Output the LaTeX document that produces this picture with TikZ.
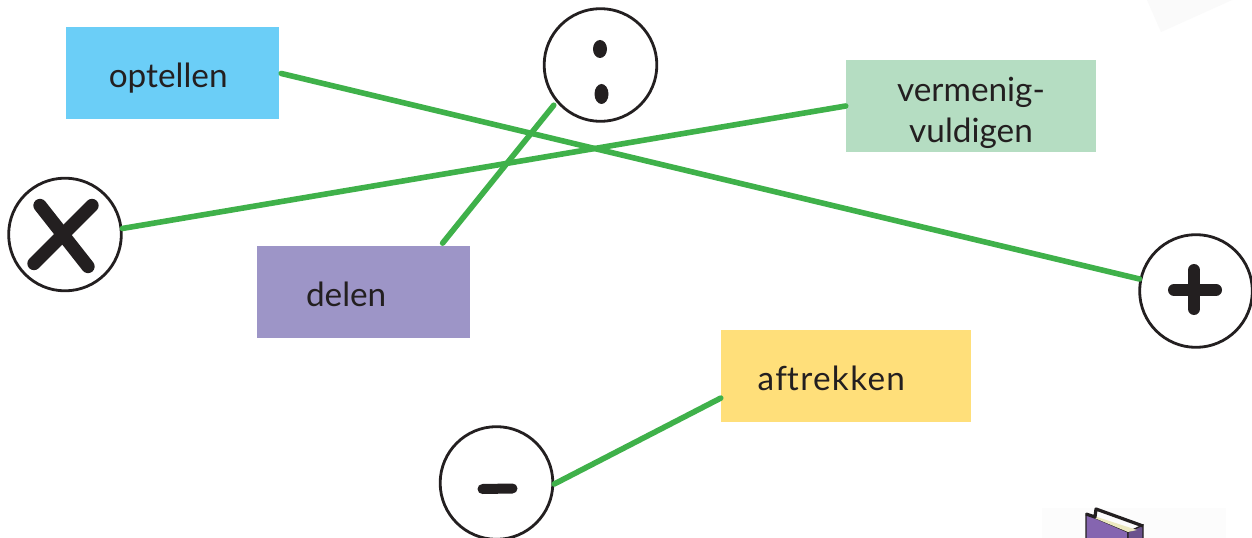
\documentclass[tikz,border=0pt]{standalone}
\usepackage{fontspec}
\setmainfont{Lato}
\usetikzlibrary{calc}
\definecolor{linkgreen}{HTML}{3FB14A}
\definecolor{inkblack}{HTML}{231F20}
\definecolor{boxblue}{HTML}{6BCEF7}
\definecolor{boxpurple}{HTML}{9D95C7}
\definecolor{boxgreen}{HTML}{B5DDC2}
\definecolor{boxyellow}{HTML}{FFDF7A}
\definecolor{bookpurple}{HTML}{8565B0}
\definecolor{bookpage}{HTML}{ECE9C0}
\newcommand{\lowered}[1]{\raisebox{-11pt}[0pt][0pt]{#1}}
\tikzset{
  x=0.75pt,y=-0.75pt,
  wordbox/.style={rectangle,inner sep=0pt,minimum height=69pt,text=inkblack,
    font=\fontsize{25}{30.8}\selectfont,align=center},
  sign/.style={circle,draw=inkblack,line width=2.1pt,fill=white,inner sep=0pt,minimum size=84.5pt},
  link/.style={draw=linkgreen,line width=4.2pt,line cap=round},
  stroke/.style={draw=inkblack,line width=#1,line cap=round},
}
\begin{document}
\begin{tikzpicture}
\clip (0,0) rectangle (1252,538);
\fill[white] (0,0) rectangle (1252,538);
\fill[black!2] (1147,0) -- (1161,32) -- (1232,0) -- cycle;
\fill[black!1] (1042,508) rectangle (1226,538);

% word boxes
\node[wordbox,fill=boxblue,minimum width=159.75pt] (opt) at (172.5,73) {\lowered{optellen}\hspace{6.5pt}};
\node[wordbox,fill=boxgreen,minimum width=187.5pt] (ver) at (971,106) {\rule{0pt}{28pt}vermenig-\\vuldigen};
\node[wordbox,fill=boxpurple,minimum width=159.75pt] (del) at (363.5,292) {\lowered{delen}\hspace{26pt}};
\node[wordbox,fill=boxyellow,minimum width=187.5pt] (aft) at (846,376) {\lowered{\addfontfeature{LetterSpace=4}af\kern0pt trekken}\hspace{22pt}};

% sign circles
\node[sign] (div) at (600.5,65) {};
\node[sign] (mul) at (65,234.5) {};
\node[sign] (add) at (1196,291) {};
\node[sign] (sub) at (496.5,483) {};

% signs
\draw[stroke=10pt] ($(mul)+(-25,-29)$) -- ($(mul)+(23,32)$);
\draw[stroke=10pt] ($(mul)+(27,-29)$) -- ($(mul)+(-31,29)$);
\fill[inkblack] ($(div)+(-0.5,-16)$) ellipse [x radius=7,y radius=9];
\fill[inkblack] ($(div)+(1,29)$) ellipse [x radius=7,y radius=10];
\draw[stroke=9pt] ($(add)+(-22,-1)$) -- ($(add)+(20,-1)$);
\draw[stroke=9pt] ($(add)+(-2,-21)$) -- ($(add)+(-2,18)$);
\draw[stroke=7.5pt] ($(sub)+(-14,6)$) -- ($(sub)+(16,5.5)$);

% connectors
\draw[link,shorten <=1.5pt] (opt.-0.5) -- (add.168);
\draw[link] (ver.180) -- (mul.6.6);
\draw[link,shorten <=2.5pt,shorten >=3pt] (del.31.2) -- (div.-140);
\draw[link] (aft.190.4) -- (sub.-1);

% book
\fill[bookpurple,draw=inkblack,line width=1pt] (1086,514) -- (1128,532) -- (1128,540) -- (1086,540) -- cycle;
\fill[bookpurple!80!black,draw=inkblack,line width=1pt] (1128,532) -- (1143,525) -- (1143,540) -- (1128,540) -- cycle;
\fill[bookpage] (1094,516) -- (1137,530) -- (1128,532) -- (1092,517) -- cycle;
\draw[inkblack,line width=2.4pt,line join=round] (1086,514) -- (1095,517) -- (1096,509) -- (1143,526);
\end{tikzpicture}
\end{document}
